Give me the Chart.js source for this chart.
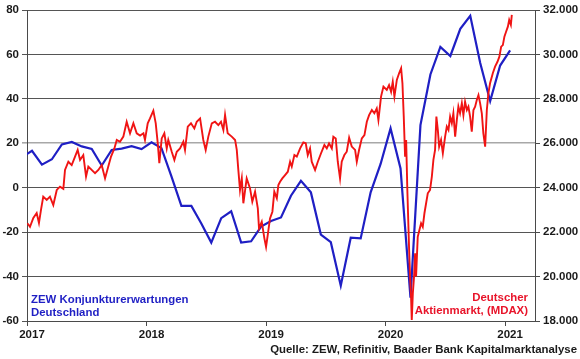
<!DOCTYPE html>
<html>
<head>
<meta charset="utf-8">
<script src="https://cdn.jsdelivr.net/npm/chart.js@4.4.0/dist/chart.umd.min.js"></script>
<style>
  html, body { margin: 0; padding: 0; background: #ffffff; }
  #wrap { width: 580px; height: 359px; position: relative; }
</style>
</head>
<body>
<div id="wrap"><canvas id="c" width="580" height="359"></canvas></div>
<script>
// ---- Data ----
// ZEW Konjunkturerwartungen Deutschland (monthly, left axis)
const zewMonths = ["2016-12",
  "2017-01","2017-02","2017-03","2017-04","2017-05","2017-06","2017-07","2017-08","2017-09","2017-10","2017-11","2017-12",
  "2018-01","2018-02","2018-03","2018-04","2018-05","2018-06","2018-07","2018-08","2018-09","2018-10","2018-11","2018-12",
  "2019-01","2019-02","2019-03","2019-04","2019-05","2019-06","2019-07","2019-08","2019-09","2019-10","2019-11","2019-12",
  "2020-01","2020-02","2020-03","2020-04","2020-05","2020-06","2020-07","2020-08","2020-09","2020-10","2020-11","2020-12",
  "2021-01"];
const zewValues = [13.8,
  16.6, 10.4, 12.8, 19.5, 20.6, 18.6, 17.5, 10.0, 17.0, 17.6, 18.7, 17.4,
  20.4, 17.8, 5.1, -8.2, -8.2, -16.1, -24.7, -13.7, -10.6, -24.7, -24.1, -17.5,
  -15.0, -13.4, -3.6, 3.1, -2.1, -21.1, -24.5, -44.1, -22.5, -22.8, -2.1, 10.7,
  26.7, 8.7, -49.5, 28.2, 51.0, 63.4, 59.3, 71.5, 77.4, 56.1, 39.0, 55.0,
  61.8];

// Deutscher Aktienmarkt (MDAX), right axis: time in decimal years, index points
const mdaxTime = [
  2017.003,2017.025,2017.053,2017.081,2017.100,2017.117,2017.136,2017.165,2017.192,2017.220,
  2017.249,2017.276,2017.304,2017.318,2017.346,2017.374,2017.402,2017.424,2017.444,2017.471,
  2017.494,2017.513,2017.541,2017.569,2017.597,2017.625,2017.653,2017.680,2017.703,2017.731,
  2017.751,2017.778,2017.806,2017.834,2017.862,2017.890,2017.918,2017.946,2017.974,2017.987,
  2018.010,2018.029,2018.057,2018.077,2018.094,2018.107,2018.127,2018.149,2018.169,2018.182,
  2018.211,2018.233,2018.253,2018.280,2018.308,2018.322,2018.345,2018.372,2018.400,2018.420,
  2018.448,2018.475,2018.495,2018.517,2018.546,2018.573,2018.601,2018.623,2018.643,2018.657,
  2018.679,2018.713,2018.741,2018.755,2018.768,2018.782,2018.797,2018.810,2018.838,2018.866,
  2018.885,2018.908,2018.931,2018.941,2018.964,2018.986,2019.000,2019.014,2019.033,2019.053,
  2019.069,2019.090,2019.103,2019.117,2019.136,2019.159,2019.182,2019.201,2019.215,2019.237,
  2019.257,2019.285,2019.312,2019.332,2019.349,2019.368,2019.382,2019.410,2019.433,2019.460,
  2019.488,2019.508,2019.527,2019.550,2019.563,2019.583,2019.600,2019.619,2019.633,2019.655,
  2019.675,2019.695,2019.717,2019.745,2019.759,2019.778,2019.801,2019.823,2019.843,2019.862,
  2019.885,2019.906,2019.926,2019.940,2019.962,2019.982,2020.010,2020.029,2020.046,2020.060,
  2020.074,2020.094,2020.113,2020.130,2020.141,2020.152,2020.163,2020.172,2020.182,2020.197,
  2020.205,2020.213,2020.219,2020.228,2020.238,2020.247,2020.255,2020.269,2020.283,2020.297,
  2020.311,2020.325,2020.339,2020.353,2020.372,2020.387,2020.400,2020.414,2020.425,2020.437,
  2020.448,2020.464,2020.479,2020.498,2020.512,2020.526,2020.540,2020.554,2020.567,2020.582,
  2020.596,2020.609,2020.623,2020.638,2020.651,2020.665,2020.680,2020.693,2020.707,2020.721,
  2020.735,2020.749,2020.763,2020.777,2020.791,2020.805,2020.818,2020.833,2020.847,2020.860,
  2020.874,2020.897,2020.916,2020.936,2020.952,2020.967,2020.981,2020.994,2021.008,2021.023,
  2021.034,2021.048,2021.056];
const mdaxValues = [
  22400,22240,22640,22860,22410,23000,23600,23450,23600,23220,
  23900,24050,23950,24800,25170,25020,25400,25700,25250,25470,
  24500,24950,24800,24650,24800,25020,24420,24950,25400,25770,
  26150,26070,26300,26970,26450,26900,26450,26350,26450,26150,
  26900,27120,27470,26900,26000,25100,26220,26450,25770,26150,
  25620,25250,25620,25770,26070,25700,26750,26900,26670,26970,
  27120,26150,25700,26300,26900,26970,26820,26970,26600,27270,
  26450,26300,26150,25700,24800,23900,24420,23300,24420,23970,
  23370,23820,23070,22170,22470,21720,21340,21870,22620,22920,
  23820,23520,24120,24270,24420,24570,24720,25170,24950,25470,
  25400,25770,26040,26000,25470,25770,25170,24800,25170,25550,
  25920,25770,26000,25770,26300,26220,25170,24420,25170,25470,
  25620,26250,25850,25700,25170,25700,26220,26370,26970,27270,
  27500,27350,27570,27050,28100,28550,28400,28620,28320,28770,
  28100,28850,29150,29380,28700,27200,25400,26150,23900,21200,
  20000,19090,18050,19250,20000,21050,20000,21790,22100,22400,
  22240,22850,23300,23750,23900,24500,25250,25700,27200,26600,
  25850,26150,25550,26300,26750,26600,27200,26900,27350,26300,
  27050,27650,27350,27800,27270,27870,27500,27650,27200,26520,
  27500,27650,27950,28170,27800,27350,26450,25850,27500,28250,
  28700,29150,29450,29670,29900,30350,30420,30800,31020,31250,
  31550,31330,31780];

// Axis ticks
const yearTicks = [2017, 2018, 2019, 2020, 2021];
const leftTicks = [-60, -40, -20, 0, 20, 40, 60, 80];
const rightTicks = [18000, 20000, 22000, 24000, 26000, 28000, 30000, 32000];

// ---- Build ----
function monthToYear(s) {
  const [y, m] = s.split('-').map(Number);
  return y + (m - 0.5) / 12;
}
const zewData = zewMonths.map((m, i) => ({ x: monthToYear(m), y: zewValues[i] }));
const mdaxData = mdaxTime.map((t, i) => ({ x: t, y: mdaxValues[i] }));

const FONT = "'Liberation Sans', Arial, Helvetica, sans-serif";
const AXIS = '#4a4a4a';
const BLUE = '#1f1fc4';
const RED = '#f01414';

function fmtThousands(v) {
  return String(v).replace(/\B(?=(\d{3})+(?!\d))/g, '.');
}

const textPlugin = {
  id: 'texts',
  afterDraw(chart) {
    const ctx = chart.ctx;
    ctx.save();
    ctx.font = 'bold 11.4px ' + FONT;
    ctx.textBaseline = 'middle';
    ctx.fillStyle = BLUE;
    ctx.textAlign = 'left';
    ctx.fillText('ZEW Konjunkturerwartungen', 31, 300);
    ctx.fillText('Deutschland', 31, 312.5);
    ctx.fillStyle = '#e8142a';
    ctx.textAlign = 'right';
    ctx.fillText('Deutscher', 528, 298);
    ctx.fillText('Aktienmarkt, (MDAX)', 528, 311);
    ctx.fillStyle = '#1a1a1a';
    ctx.fillText('Quelle: ZEW, Refinitiv, Baader Bank Kapitalmarktanalyse', 577, 350);
    ctx.restore();
  }
};

new Chart(document.getElementById('c'), {
  type: 'line',
  data: {
    datasets: [
      {
        label: 'Deutscher Aktienmarkt, (MDAX)',
        data: mdaxData,
        yAxisID: 'y1',
        borderColor: RED,
        borderWidth: 1.9,
        pointRadius: 0,
        tension: 0,
        fill: false
      },
      {
        label: 'ZEW Konjunkturerwartungen Deutschland',
        data: zewData,
        yAxisID: 'y',
        borderColor: BLUE,
        borderWidth: 2.2,
        pointRadius: 0,
        tension: 0,
        fill: false
      }
    ]
  },
  options: {
    responsive: false,
    animation: false,
    devicePixelRatio: 1,
    layout: { padding: { top: 10, left: 0, right: 0, bottom: 0 } },
    plugins: {
      legend: { display: false },
      tooltip: { enabled: false }
    },
    scales: {
      x: {
        type: 'linear',
        min: 2017,
        max: 2021.25,
        afterBuildTicks(scale) {
          scale.ticks = yearTicks.map(v => ({ value: v }));
        },
        afterFit(scale) { scale.height = 38; },
        border: { display: true, color: AXIS, width: 1 },
        grid: { drawOnChartArea: false, drawTicks: true, tickLength: 5, color: AXIS },
        ticks: {
          color: '#1a1a1a',
          font: { family: FONT, size: 11.5, weight: 'bold' },
          padding: 2,
          labelOffset: 5,
          maxRotation: 0,
          autoSkip: false,
          callback: v => String(v)
        }
      },
      y: {
        position: 'left',
        min: -60,
        max: 80,
        afterBuildTicks(scale) {
          scale.ticks = leftTicks.map(v => ({ value: v }));
        },
        afterFit(scale) { scale.width = 27; },
        border: { display: true, color: AXIS, width: 1 },
        grid: {
          drawOnChartArea: true,
          drawTicks: true,
          tickLength: 5,
          color: ctx => (ctx.tick && ctx.tick.value === 20) ? '#a8a8a8' : '#555555',
          lineWidth: ctx => (ctx.tick && ctx.tick.value === 20) ? 1.6 : 1
        },
        ticks: {
          color: '#1a1a1a',
          font: { family: FONT, size: 11.5, weight: 'bold' },
          padding: 3,
          autoSkip: false,
          callback: v => String(v)
        }
      },
      y1: {
        position: 'right',
        min: 18000,
        max: 32000,
        afterBuildTicks(scale) {
          scale.ticks = rightTicks.map(v => ({ value: v }));
        },
        afterFit(scale) { scale.width = 45; },
        border: { display: true, color: AXIS, width: 1 },
        grid: { drawOnChartArea: false, drawTicks: true, tickLength: 5, color: AXIS },
        ticks: {
          color: '#1a1a1a',
          font: { family: FONT, size: 11.5, weight: 'bold' },
          padding: 3,
          autoSkip: false,
          callback: v => fmtThousands(v)
        }
      }
    }
  },
  plugins: [textPlugin]
});
</script>
</body>
</html>
